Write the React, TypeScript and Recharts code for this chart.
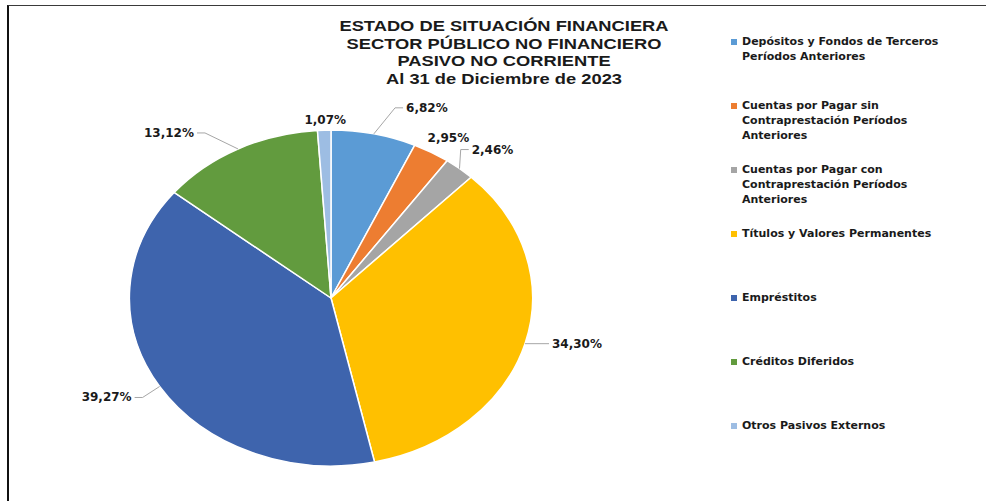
import React from "react";
import { PieChart, Pie, Cell, Legend } from "recharts";

// ── Data ────────────────────────────────────────────────────────────

const NAMES = [
  "Depósitos y Fondos de Terceros Períodos Anteriores",
  "Cuentas por Pagar sin Contraprestación Períodos Anteriores",
  "Cuentas por Pagar con Contraprestación Períodos Anteriores",
  "Títulos y Valores Permanentes",
  "Empréstitos",
  "Créditos Diferidos",
  "Otros Pasivos Externos",
];

const VALUES = [6.82, 2.95, 2.46, 34.3, 39.27, 13.12, 1.07];

const TITLE_LINES = [
  "ESTADO DE SITUACIÓN FINANCIERA",
  "SECTOR PÚBLICO NO FINANCIERO",
  "PASIVO NO CORRIENTE",
  "Al 31 de Diciembre de 2023",
];

// ── Style ───────────────────────────────────────────────────────────

const COLORS = ["#5B9BD5", "#ED7D31", "#A5A5A5", "#FFC000", "#3E64AD", "#629B3E", "#9DBDE3"];

// label nudges from the slice edge (dx, dy) and whether a leader line is drawn
const LABEL_OFFSETS = [
  [53, -26],
  [17, -14],
  [33, -19],
  [52, 0],
  [-53, 11],
  [-69, -16],
  [1, -10],
];
const LEADER = [true, false, true, true, true, true, false];

const X_STRETCH = 1.2;
const RAD = Math.PI / 180;
const LABEL_FONT = 12;

const data = NAMES.map((name, i) => ({ name, value: VALUES[i] }));

// rough width of a bold DejaVu Sans label
function labelWidth(s: string) {
  let w = 0;
  for (const ch of s) {
    if (ch === ",") w += 0.38;
    else if (ch === "%") w += 1.0;
    else w += 0.696;
  }
  return w * LABEL_FONT;
}

// the source chart is a stretched pie, so sectors are elliptical
function EllipseSector(props: any) {
  const { cx, cy, outerRadius, startAngle, endAngle, fill } = props;
  const rx = outerRadius * X_STRETCH;
  const ry = outerRadius;
  const pt = (a: number) => [cx + rx * Math.cos(-a * RAD), cy + ry * Math.sin(-a * RAD)];
  const [x0, y0] = pt(startAngle);
  const [x1, y1] = pt(endAngle);
  const large = Math.abs(endAngle - startAngle) > 180 ? 1 : 0;
  const sweep = startAngle > endAngle ? 1 : 0;
  const d = `M${cx},${cy} L${x0},${y0} A${rx},${ry} 0 ${large} ${sweep} ${x1},${y1} Z`;
  return <path d={d} fill={fill} stroke="#fff" strokeWidth={1.5} strokeLinejoin="round" />;
}

const renderLabel = (p: any) => {
  const { cx, cy, midAngle, outerRadius, value } = p;
  const index = p.index ?? NAMES.indexOf(p.name);
  const a = -midAngle * RAD;
  const ex = cx + outerRadius * X_STRETCH * Math.cos(a);
  const ey = cy + outerRadius * Math.sin(a);
  const [dx, dy] = LABEL_OFFSETS[index];
  const tx = ex + dx;
  const ty = ey + dy;
  const text = Number(value).toFixed(2).replace(".", ",") + "%";
  const half = labelWidth(text) / 2;
  const dir = dx >= 0 ? 1 : -1;
  const endX = tx - dir * (half + 3);
  const elbowX = endX - dir * 8;
  return (
    <g key={`lbl-${index}`}>
      {LEADER[index] && (
        <polyline
          points={`${ex},${ey} ${elbowX},${ty} ${endX},${ty}`}
          fill="none"
          stroke="#A6A6A6"
          strokeWidth={1}
        />
      )}
      <text
        x={tx}
        y={ty}
        textAnchor="middle"
        dominantBaseline="central"
        fontFamily="DejaVu Sans"
        fontWeight="bold"
        fontSize={LABEL_FONT}
        fill="#1a1a1a"
      >
        {text}
      </text>
    </g>
  );
};

const renderLegend = (props: any) => {
  // keep the data order, not the alphabetical default
  const payload = [...(props.payload || [])].sort(
    (a: any, b: any) => NAMES.indexOf(a.value) - NAMES.indexOf(b.value)
  );
  return (
    <div>
      {payload.map((entry: any, i: number) => (
        <div key={i} style={{ height: 64, position: "relative" }}>
          <span
            style={{
              position: "absolute",
              left: 3,
              top: 5,
              width: 6,
              height: 6,
              background: entry.color || COLORS[i],
            }}
          />
          <div
            style={{
              marginLeft: 14,
              width: 210,
              fontFamily: "DejaVu Sans",
              fontWeight: "bold",
              fontSize: 11,
              lineHeight: "15px",
              color: "#1a1a1a",
            }}
          >
            {entry.value}
          </div>
        </div>
      ))}
    </div>
  );
};

export default function App() {
  return (
    <div
      style={{
        position: "fixed",
        left: 0,
        top: 0,
        width: 986,
        height: 501,
        background: "#fff",
        overflow: "hidden",
      }}
    >
      <div
        style={{
          position: "absolute",
          left: 7,
          top: 5,
          right: 0,
          bottom: -10,
          borderTop: "1.5px solid #3a3a3a",
          borderLeft: "2px solid #111",
        }}
      />
      <div
        style={{
          position: "absolute",
          left: 304,
          top: 17,
          width: 400,
          textAlign: "center",
          fontFamily: "Liberation Sans",
          fontWeight: "bold",
          fontSize: 15,
          lineHeight: "17.5px",
          color: "#1a1a1a",
          transform: "scaleX(1.22)",
          transformOrigin: "50% 50%",
          whiteSpace: "nowrap",
        }}
      >
        {TITLE_LINES.map((t) => (
          <div key={t}>{t}</div>
        ))}
      </div>
      <PieChart
        width={986}
        height={501}
        margin={{ top: 0, right: 0, bottom: 0, left: 0 }}
        style={{ position: "absolute", left: 0, top: 0 }}
      >
        <Pie
          data={data}
          dataKey="value"
          nameKey="name"
          cx={331}
          cy={298}
          outerRadius={168}
          startAngle={90}
          endAngle={-270}
          stroke="#fff"
          shape={EllipseSector}
          inactiveShape={EllipseSector}
          label={renderLabel}
          labelLine={false}
          isAnimationActive={false}
        >
          {data.map((d, i) => (
            <Cell key={d.name} fill={COLORS[i]} />
          ))}
        </Pie>
        <Legend
          layout="vertical"
          verticalAlign="top"
          align="right"
          itemSorter={null as any}
          content={renderLegend}
          wrapperStyle={{ position: "absolute", left: 728, top: 34, width: 250 }}
        />
      </PieChart>
    </div>
  );
}
